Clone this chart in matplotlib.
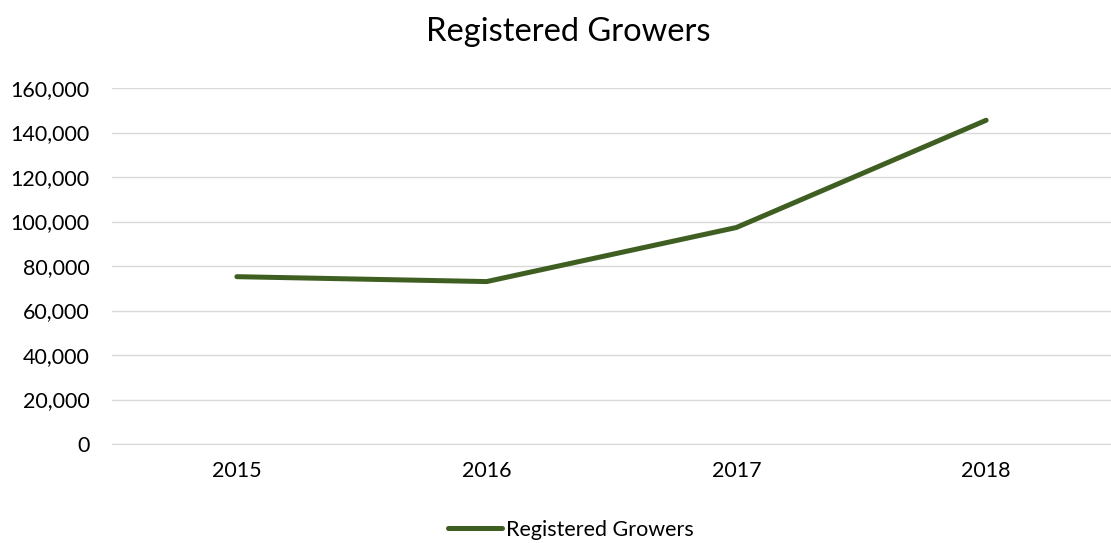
import matplotlib.pyplot as plt
from matplotlib.ticker import FuncFormatter

years = ["2015", "2016", "2017", "2018"]
growers = [75200, 73000, 97300, 145500]

plt.rcParams['font.family'] = ['Lato', 'DejaVu Sans']

fig = plt.figure(figsize=(11.11, 5.43), dpi=100)
ax = fig.add_axes([112 / 1111, 1 - 444 / 543, 1 - 112 / 1111, (444 - 88) / 543])

x = range(len(years))
ax.plot(x, growers, color="#3F5F22", linewidth=3.6, solid_capstyle="round",
        label="Registered Growers")

ax.set_xlim(-0.5, 3.5)
ax.set_ylim(0, 160000)
ax.set_yticks(range(0, 160001, 20000))
ax.yaxis.set_major_formatter(FuncFormatter(lambda v, p: f"{int(v):,}"))
ax.set_xticks(list(x))
ax.set_xticklabels(years)
ax.grid(axis="y", color="#D9D9D9", linewidth=1)
ax.set_axisbelow(True)
for s in ["top", "right", "left"]:
    ax.spines[s].set_visible(False)
ax.spines["bottom"].set_color("#D9D9D9")
ax.tick_params(axis="both", length=0, labelsize=15.5, colors="#000000")
ax.tick_params(axis="y", pad=16)
ax.tick_params(axis="x", pad=12)

fig.text(568 / 1111, 1 - 32 / 543, "Registered Growers", ha="center", va="center", fontsize=23.5)
fig.legend(loc="center", bbox_to_anchor=(571 / 1111, 1 - 530 / 543), frameon=False,
           fontsize=15.5, handlelength=2.5, handletextpad=0.2)

fig.savefig("out.png", dpi=100)
